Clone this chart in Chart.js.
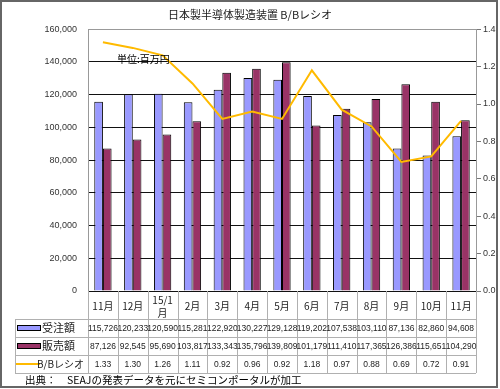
<!DOCTYPE html>
<html lang="ja">
<head>
<meta charset="UTF-8">
<title>日本製半導体製造装置 B/Bレシオ</title>
<script src="https://cdn.jsdelivr.net/npm/chart.js"></script>
<style>
  body { margin: 0; background: #fff; }
  canvas { display: block; }
</style>
</head>
<body>
<canvas id="bbChart" width="500" height="389"></canvas>
<script>
// 月ラベル
const months = ['11月', '12月', ['15/1', '月'], '2月', '3月', '4月', '5月', '6月', '7月', '8月', '9月', '10月', '11月'];
// 受注額 (百万円)
const orders = [115726, 120233, 120590, 115281, 122920, 130227, 129128, 119202, 107538, 103110, 87136, 82860, 94608];
// 販売額 (百万円)
const sales = [87126, 92545, 95690, 103817, 133343, 135796, 139809, 101179, 111410, 117365, 126386, 115651, 104290];
// B/Bレシオ
const bbRatio = [1.33, 1.30, 1.26, 1.11, 0.92, 0.96, 0.92, 1.18, 0.97, 0.88, 0.69, 0.72, 0.91];

const leftTicks = [0, 20000, 40000, 60000, 80000, 100000, 120000, 140000, 160000];

const BLUE = '#9999FF';
const PURPLE = '#993366';
const ORANGE = '#FFBA00';
const sansFont = '"Liberation Sans", Arial, sans-serif';
const jpFont = '"Noto Sans CJK JP", sans-serif';

// 下のデータテーブル、注記、外枠を描く
const tablePlugin = {
    id: 'dataTable',
    afterDraw(chart) {
        const ctx = chart.ctx;
        const x = chart.scales.x;
        const area = chart.chartArea;
        const colW = (x.right - x.left) / months.length;
        const headTop = area.bottom;
        const rowTop = x.bottom;
        const rowH = 18;
        const labelLeft = 15;

        ctx.save();
        ctx.strokeStyle = '#b0b0b0';
        ctx.lineWidth = 1;
        // vertical lines
        for (let i = 0; i <= months.length; i++) {
            const px = Math.round(x.left + i * colW) + 0.5;
            ctx.beginPath();
            ctx.moveTo(px, headTop);
            ctx.lineTo(px, rowTop + rowH * 3);
            ctx.stroke();
        }
        ctx.beginPath();
        ctx.moveTo(labelLeft + 0.5, rowTop);
        ctx.lineTo(labelLeft + 0.5, rowTop + rowH * 3);
        ctx.stroke();
        // horizontal lines
        for (let r = 0; r <= 3; r++) {
            const py = Math.round(rowTop + r * rowH) + 0.5;
            ctx.beginPath();
            ctx.moveTo(labelLeft, py);
            ctx.lineTo(x.right, py);
            ctx.stroke();
        }

        // legend keys in first column
        const rows = [
            { name: '受注額', data: orders, color: BLUE, fmt: v => v.toLocaleString('en-US') },
            { name: '販売額', data: sales, color: PURPLE, fmt: v => v.toLocaleString('en-US') },
            { name: 'B/Bレシオ', data: bbRatio, color: ORANGE, fmt: v => v.toFixed(2), line: true }
        ];
        rows.forEach((row, r) => {
            const cy = rowTop + r * rowH + rowH / 2;
            if (row.line) {
                ctx.strokeStyle = row.color;
                ctx.lineWidth = 2;
                ctx.beginPath();
                ctx.moveTo(labelLeft + 1, cy);
                ctx.lineTo(40, cy);
                ctx.stroke();
                ctx.fillStyle = '#222';
                ctx.font = '10px ' + jpFont;
                ctx.textAlign = 'right';
                ctx.textBaseline = 'middle';
                ctx.fillText(row.name, 84, cy);
            } else {
                ctx.fillStyle = row.color;
                ctx.strokeStyle = '#000';
                ctx.lineWidth = 1;
                ctx.fillRect(17.5, cy - 2.5, 23, 5);
                ctx.strokeRect(17.5, cy - 2.5, 23, 5);
                ctx.fillStyle = '#222';
                ctx.font = '11px ' + jpFont;
                ctx.textAlign = 'left';
                ctx.textBaseline = 'middle';
                ctx.fillText(row.name, 42, cy);
            }
            ctx.fillStyle = '#222';
            ctx.font = '8.5px ' + sansFont;
            ctx.textAlign = 'center';
            ctx.textBaseline = 'middle';
            row.data.forEach((v, i) => {
                ctx.fillText(row.fmt(v), x.getPixelForValue(i), cy + 1);
            });
        });

        // 単位
        ctx.fillStyle = '#000';
        ctx.font = '10px ' + jpFont;
        ctx.textAlign = 'left';
        ctx.textBaseline = 'middle';
        ctx.fillText('単位:百万円', 117, 59);

        // 出典
        ctx.font = '10.5px ' + jpFont;
        ctx.fillText('出典：　SEAJの発表データを元にセミコンポータルが加工', 25, 380);

        // outer frame
        ctx.strokeStyle = '#666';
        ctx.lineWidth = 2;
        ctx.strokeRect(1, 1, 496, 386);
        ctx.restore();
    }
};

const ctx = document.getElementById('bbChart').getContext('2d');
const chart = new Chart(ctx, {
    type: 'bar',
    data: {
        labels: months,
        datasets: [
            {
                type: 'line',
                label: 'B/Bレシオ',
                data: bbRatio,
                yAxisID: 'y1',
                borderColor: ORANGE,
                borderWidth: 2,
                pointRadius: 0,
                tension: 0,
                fill: false,
                order: 0
            },
            {
                label: '受注額',
                data: orders,
                yAxisID: 'y',
                backgroundColor: BLUE,
                borderColor: '#000',
                borderWidth: 1,
                order: 1
            },
            {
                label: '販売額',
                data: sales,
                yAxisID: 'y',
                backgroundColor: PURPLE,
                borderColor: '#000',
                borderWidth: 1,
                order: 1
            }
        ]
    },
    options: {
        responsive: false,
        animation: false,
        devicePixelRatio: 1,
        layout: { padding: { left: 0, right: 0, top: 0, bottom: 70 } },
        datasets: {
            bar: { categoryPercentage: 0.58, barPercentage: 1.0 }
        },
        plugins: {
            legend: { display: false },
            tooltip: { enabled: false },
            title: {
                display: true,
                text: '日本製半導体製造装置 B/Bレシオ',
                color: '#222',
                font: { family: jpFont, size: 11, weight: 'normal' },
                padding: { top: 8, bottom: 8 }
            }
        },
        scales: {
            x: {
                offset: true,
                grid: { display: false },
                border: { display: false },
                ticks: {
                    color: '#222',
                    font: { family: jpFont, size: 10, lineHeight: 1.3 },
                    padding: 1,
                    crossAlign: 'center',
                    maxRotation: 0,
                    autoSkip: false
                },
                afterFit(scale) { scale.height = 28; }
            },
            y: {
                position: 'left',
                min: 0,
                max: 160000,
                afterBuildTicks(scale) { scale.ticks = leftTicks.map(v => ({ value: v })); },
                grid: {
                    color: ctx => ctx.tick && ctx.tick.value === 160000 ? '#999' : '#111',
                    drawTicks: false
                },
                border: { color: '#999' },
                ticks: {
                    color: '#333',
                    font: { family: sansFont, size: 9 },
                    padding: 11,
                    callback: v => v.toLocaleString('en-US')
                },
                afterFit(scale) { scale.width = 88; }
            },
            y1: {
                position: 'right',
                min: 0,
                max: 1.4,
                grid: { drawOnChartArea: false, tickLength: 5, color: '#777' },
                border: { color: '#999' },
                ticks: {
                    stepSize: 0.2,
                    color: '#333',
                    font: { family: sansFont, size: 9 },
                    padding: 2,
                    callback: v => Number(v).toFixed(1)
                },
                afterFit(scale) { scale.width = 24; }
            }
        }
    },
    plugins: [tablePlugin]
});
</script>
</body>
</html>
